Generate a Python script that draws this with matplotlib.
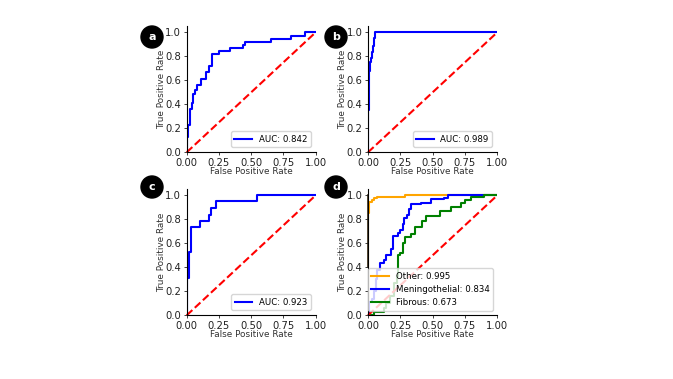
#!/usr/bin/env python3
"""ROC curves for four classifiers, panels a to d."""

import matplotlib

matplotlib.use("Agg")
import matplotlib.pyplot as plt
from matplotlib.patches import Circle

W, H = 673, 379

a_fpr = [0, 0, 0.01, 0.025, 0.04, 0.05, 0.065, 0.08, 0.11, 0.15, 0.17, 0.20, 0.25, 0.335, 0.44, 0.45, 0.65, 0.81, 0.92, 1.0]
a_tpr = [0, 0.13, 0.23, 0.36, 0.41, 0.49, 0.52, 0.56, 0.615, 0.67, 0.72, 0.82, 0.845, 0.87, 0.895, 0.92, 0.945, 0.97, 1.0, 1.0]

b_fpr = [0, 0, 0.005, 0.01, 0.015, 0.02, 0.03, 0.04, 0.05, 0.055, 1.0]
b_tpr = [0, 0.35, 0.55, 0.68, 0.75, 0.79, 0.84, 0.89, 0.95, 1.0, 1.0]

c_fpr = [0, 0, 0.015, 0.035, 0.105, 0.175, 0.19, 0.225, 0.545, 1.0]
c_tpr = [0, 0.315, 0.525, 0.74, 0.79, 0.84, 0.895, 0.95, 1.0, 1.0]

other_fpr = [0, 0, 0.005, 0.01, 0.03, 0.05, 0.07, 0.29, 1.0]
other_tpr = [0, 0.85, 0.91, 0.945, 0.96, 0.975, 0.99, 1.0, 1.0]

men_fpr = [0, 0.005, 0.01, 0.03, 0.05, 0.06, 0.07, 0.09, 0.12, 0.14, 0.18, 0.19, 0.23, 0.25, 0.27, 0.28, 0.30, 0.32, 0.33, 0.41, 0.49, 0.59, 0.62, 1.0]
men_tpr = [0, 0.02, 0.11, 0.14, 0.2, 0.3, 0.38, 0.44, 0.46, 0.5, 0.55, 0.66, 0.69, 0.71, 0.76, 0.81, 0.84, 0.89, 0.93, 0.94, 0.97, 0.98, 1.0, 1.0]

fib_fpr = [0, 0.01, 0.05, 0.12, 0.14, 0.17, 0.2, 0.225, 0.235, 0.25, 0.27, 0.29, 0.33, 0.36, 0.42, 0.45, 0.56, 0.61, 0.64, 0.72, 0.75, 0.8, 0.82, 0.9, 1.0]
fib_tpr = [0, 0.005, 0.025, 0.06, 0.1, 0.16, 0.27, 0.33, 0.5, 0.52, 0.6, 0.655, 0.68, 0.74, 0.79, 0.825, 0.87, 0.87, 0.9, 0.94, 0.96, 0.985, 0.99, 1.0, 1.0]

a_label = "AUC: 0.842"
b_label = "AUC: 0.989"
c_label = "AUC: 0.923"
other_label = "Other: 0.995"
men_label = "Meningothelial: 0.834"
fib_label = "Fibrous: 0.673"

TICKS = [0.0, 0.25, 0.5, 0.75, 1.0]
YTICKS = [0.0, 0.2, 0.4, 0.6, 0.8, 1.0]
FONT = 6.4
TICK_FONT = 7.2
LEGEND_FONT = 6.2


def make_axes(fig, x0, x1, y0, y1):
    # axes given by pixel positions of data 0 and 1
    left = x0 / W
    width = (x1 - x0) / W
    height = (y0 - y1) * 1.05 / H
    bottom = 1 - y0 / H
    ax = fig.add_axes([left, bottom, width, height])
    ax.set_xlim(0, 1)
    ax.set_ylim(0, 1.05)
    ax.set_xticks(TICKS)
    ax.set_xticklabels(["0.00", "0.25", "0.50", "0.75", "1.00"])
    ax.set_yticks(YTICKS)
    ax.tick_params(labelsize=TICK_FONT, length=2.5, width=0.6, pad=1.5, colors="#222222")
    ax.set_xlabel("False Positive Rate", fontsize=FONT, color="#333333")
    ax.set_ylabel("True Positive Rate", fontsize=FONT, color="#333333")
    ax.xaxis.set_label_coords(0.5, -14.7 / 126)
    ax.yaxis.set_label_coords(-20.7 / 129, 0.5)
    ax.spines["top"].set_visible(False)
    ax.spines["right"].set_visible(False)
    return ax


def diagonal(ax):
    ax.plot([0, 1], [0, 1], color="red", linestyle="--", linewidth=1.5, clip_on=False)


def single_panel(fig, box, fpr, tpr, label):
    ax = make_axes(fig, *box)
    ax.plot(fpr, tpr, color="blue", linewidth=1.5, drawstyle="steps-post", label=label)
    diagonal(ax)
    handles, labels = ax.get_legend_handles_labels()
    ax.legend(handles, labels, loc="lower right", fontsize=LEGEND_FONT, borderaxespad=0.6)
    return ax


def main():
    fig = plt.figure(figsize=(W / 100, H / 100), dpi=100)

    single_panel(fig, (186.7, 315.7, 152.3, 32.3), a_fpr, a_tpr, a_label)
    single_panel(fig, (368, 497.3, 152.3, 32.3), b_fpr, b_tpr, b_label)
    single_panel(fig, (186.7, 315.7, 315.3, 195.3), c_fpr, c_tpr, c_label)

    ax = make_axes(fig, 368, 497.3, 315.3, 195.3)
    ax.plot(other_fpr, other_tpr, color="orange", linewidth=1.5, drawstyle="steps-post", label=other_label)
    ax.plot(men_fpr, men_tpr, color="blue", linewidth=1.5, drawstyle="steps-post", label=men_label)
    ax.plot(fib_fpr, fib_tpr, color="green", linewidth=1.5, drawstyle="steps-post", label=fib_label)
    diagonal(ax)
    ax.plot([0, 0], [0.4, 1.0], color="#3a2a10", linewidth=1.2, zorder=1, clip_on=False)
    handles, labels = ax.get_legend_handles_labels()
    ax.legend(handles[:3], labels[:3], loc="lower left", fontsize=LEGEND_FONT,
              bbox_to_anchor=(0.0, 0.035), borderaxespad=0, labelspacing=0.5)

    # panel badges
    overlay = fig.add_axes([0, 0, 1, 1], facecolor="none")
    overlay.set_xlim(0, W)
    overlay.set_ylim(H, 0)
    overlay.axis("off")
    for letter, cx, cy in [("a", 152, 37), ("b", 336, 37), ("c", 152, 187), ("d", 336, 187)]:
        overlay.add_patch(Circle((cx, cy), 11, color="black"))
        overlay.text(cx, cy - 0.5, letter, color="white", fontsize=8, fontweight="bold",
                     ha="center", va="center")

    fig.savefig("out.png", dpi=100)
    plt.close(fig)


if __name__ == "__main__":
    main()
